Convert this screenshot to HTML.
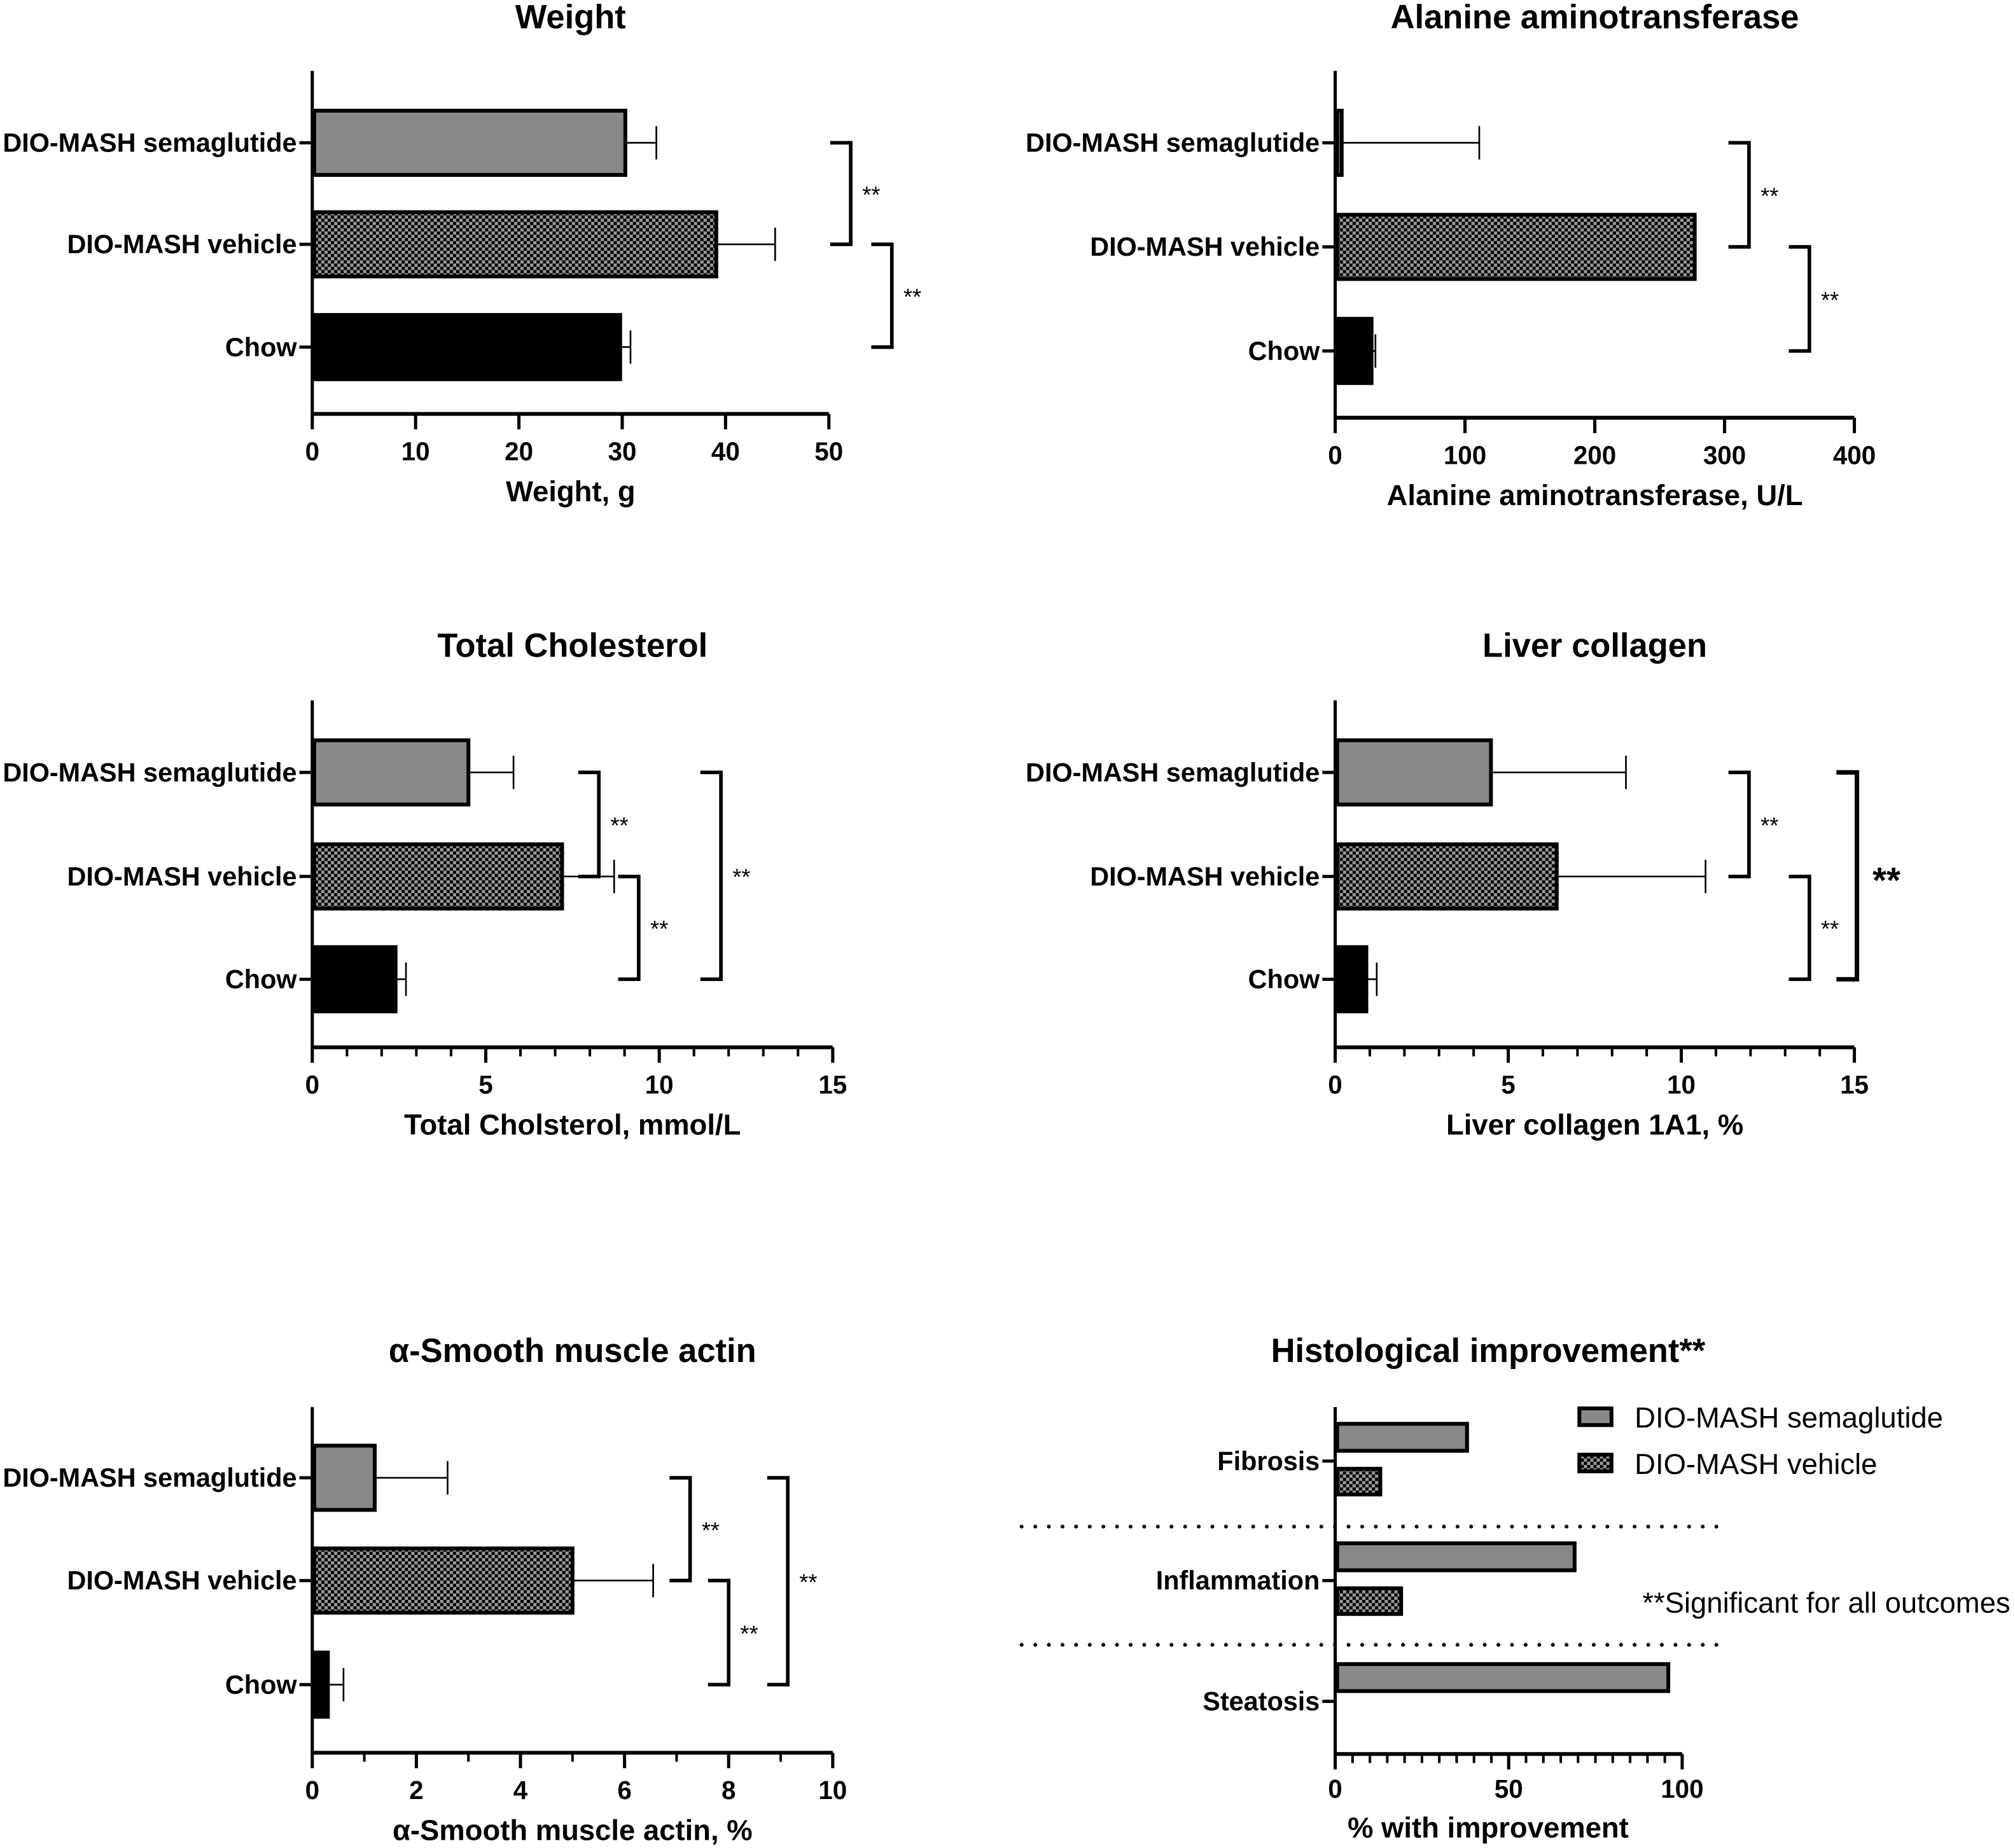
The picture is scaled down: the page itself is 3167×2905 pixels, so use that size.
<!DOCTYPE html>
<html><head><meta charset="utf-8"><style>
html,body{margin:0;padding:0;background:#fff}
svg{display:block}
text{font-family:"Liberation Sans",Arial,sans-serif}
</style></head><body>
<svg id="fig" width="3167" height="2905" viewBox="0 0 1568 1438" xmlns="http://www.w3.org/2000/svg">
<defs>
<pattern id="checker" width="5" height="5" patternUnits="userSpaceOnUse">
<rect width="5" height="5" fill="#9a9a9a"/><rect width="2.5" height="2.5" fill="#000"/><rect x="2.5" y="2.5" width="2.5" height="2.5" fill="#000"/>
</pattern>
</defs>
</svg>
<script>
const groups = ["DIO-MASH semaglutide","DIO-MASH vehicle","Chow"];
const weightVals = [30.3, 39.1, 29.8];
const weightErr = [33.3, 44.8, 30.8];
const weightTicks = [0,10,20,30,40,50];
const altVals = [5, 277, 28];
const altErr = [111, 277, 31];
const altTicks = [0,100,200,300,400];
const cholVals = [4.5, 7.2, 2.4];
const cholErr = [5.8, 8.7, 2.7];
const cholTicks = [0,5,10,15];
const collVals = [4.5, 6.4, 0.9];
const collErr = [8.4, 10.7, 1.2];
const collTicks = [0,5,10,15];
const smaVals = [1.2, 5.0, 0.3];
const smaErr = [2.6, 6.55, 0.6];
const smaTicks = [0,2,4,6,8,10];
const histoCats = ["Fibrosis","Inflammation","Steatosis"];
const histoSema = [38, 69, 96];
const histoVeh = [13, 19, 0];
const histoTicks = [0,50,100];

const svg = document.getElementById('fig');
const NS = 'http://www.w3.org/2000/svg';
const F_TITLE = 26, F_CAT = 20.5, F_TICK = 20, F_XL = 22.5, F_LEG = 22.5;
function el(tag, attrs, parent){
  const e = document.createElementNS(NS, tag);
  for (const k in attrs) e.setAttribute(k, attrs[k]);
  (parent||svg).appendChild(e);
  return e;
}
function txt(x,y,s,size,anchor,weight,parent){
  const t = el('text',{x:x,y:y,'font-size':size,'text-anchor':anchor||'middle','font-weight':weight||'bold'},parent);
  t.textContent = s;
  return t;
}
const fills = ['#888888','url(#checker)','#000000'];

function panel(p){
  const g = el('g',{});
  
  
  const x = v => p.x0 + (v - 0) / p.max * (p.x1 - p.x0);
  const tt = txt((p.x0+p.x1)/2 + (p.titleDx||0), p.titleY, p.title, F_TITLE, 'middle', 'bold', g);
  
  
  el('line',{x1:p.x0,y1:p.top,x2:p.x0,y2:p.bottom,stroke:'#000','stroke-width':2.5},g);
  el('line',{x1:p.x0,y1:p.bottom,x2:p.x1,y2:p.bottom,stroke:'#000','stroke-width':3},g);
  p.ticks.forEach(v=>{
    el('line',{x1:x(v),y1:p.bottom,x2:x(v),y2:p.bottom+12,stroke:'#000','stroke-width':2.5},g);
    const tl = txt(x(v), p.bottom+36, String(v), F_TICK, 'middle', 'bold', g);
    
    
  });
  if (p.minor){
    for (let v=p.minor; v<p.max; v+=p.minor){
      if (p.ticks.some(t=>Math.abs(t-v)<1e-6)) continue;
      el('line',{x1:x(v),y1:p.bottom,x2:x(v),y2:p.bottom+7,stroke:'#000','stroke-width':2},g);
    }
  }
  const xl = txt((p.x0+p.x1)/2, p.bottom+68, p.xlabel, F_XL, 'middle', 'bold', g);
  
  
  p.cats.forEach((c,i)=>{
    const cy = p.catY[i];
    el('line',{x1:p.x0-10,y1:cy,x2:p.x0,y2:cy,stroke:'#000','stroke-width':2.5},g);
    const cl = txt(p.x0-12, cy+7, c, F_CAT, 'end', 'bold', g);
    
    
    const v = p.vals[i], e = p.err[i];
    if (e > v){
      el('line',{x1:x(v),y1:cy,x2:x(e),y2:cy,stroke:'#000','stroke-width':1.3},g);
      el('line',{x1:x(e),y1:cy-13,x2:x(e),y2:cy+13,stroke:'#000','stroke-width':1.3},g);
    }
    const b = el('rect',{x:p.x0+1.5,y:cy-25,width:Math.max(0,x(v)-p.x0-1.5),height:50,fill:fills[i],stroke:'#000','stroke-width':3},g);
    
    
  });
  (p.brackets||[]).forEach(br=>{
    const y1 = p.catY[br.a], y2 = p.catY[br.b];
    const sw = br.thick ? 3.5 : 2.8;
    el('path',{d:`M${br.x-16} ${y1} H${br.x} V${y2} H${br.x-16}`,fill:'none',stroke:'#000','stroke-width':sw},g);
    const s = txt(br.x+ (br.thick?23:16), (y1+y2)/2 + (br.thick?13:7), '**', br.thick?28:18, 'middle', br.thick?'bold':'normal', g);
    
    
  });
}

panel({name:'weight-chart',title:'Weight',titleY:22,x0:243,x1:645,max:50,top:55,bottom:322,ticks:weightTicks,xlabel:'Weight, g',
  cats:groups,catY:[111,190,270],vals:weightVals,err:weightErr,
  brackets:[{a:0,b:1,x:662},{a:1,b:2,x:694}]});
panel({name:'alt-chart',title:'Alanine aminotransferase',titleY:22,x0:1039,x1:1443,max:400,top:55,bottom:325,ticks:altTicks,xlabel:'Alanine aminotransferase, U/L',
  cats:groups,catY:[111,192,273],vals:altVals,err:altErr,
  brackets:[{a:0,b:1,x:1361},{a:1,b:2,x:1408}]});
panel({name:'cholesterol-chart',title:'Total Cholesterol',titleY:511,x0:243,x1:648,max:15,minor:1,top:545,bottom:815,ticks:cholTicks,xlabel:'Total Cholsterol, mmol/L',
  cats:groups,catY:[601,682,762],vals:cholVals,err:cholErr,
  brackets:[{a:0,b:1,x:466},{a:1,b:2,x:497},{a:0,b:2,x:561}]});
panel({name:'collagen-chart',title:'Liver collagen',titleY:511,x0:1039,x1:1443,max:15,minor:1,top:545,bottom:815,ticks:collTicks,xlabel:'Liver collagen 1A1, %',
  cats:groups,catY:[601,682,762],vals:collVals,err:collErr,
  brackets:[{a:0,b:1,x:1361},{a:1,b:2,x:1408},{a:0,b:2,x:1445,thick:true}]});
panel({name:'sma-chart',title:'α-Smooth muscle actin',titleY:1060,x0:243,x1:648,max:10,minor:1,top:1095,bottom:1364,ticks:smaTicks,xlabel:'α-Smooth muscle actin, %',
  cats:groups,catY:[1150,1230,1311],vals:smaVals,err:smaErr,
  brackets:[{a:0,b:1,x:537},{a:1,b:2,x:567},{a:0,b:2,x:613}]});

(function(){
  const g = el('g',{});
  
  
  const x0=1039, x100=1309, top=1095, bottom=1365;
  const x = v => x0 + v/100*(x100-x0);
  const catY = [1137,1230,1324];
  const t = txt(1158,1060,'Histological improvement**',F_TITLE,'middle','bold',g);
  
  
  [1188,1280].forEach(y=>{
    el('line',{x1:795,y1:y,x2:1340,y2:y,stroke:'#000','stroke-width':3,'stroke-dasharray':'0 10.6','stroke-linecap':'round'},g);
  });
  el('line',{x1:x0,y1:top,x2:x0,y2:bottom,stroke:'#000','stroke-width':2.5},g);
  el('line',{x1:x0,y1:bottom,x2:x(100),y2:bottom,stroke:'#000','stroke-width':3},g);
  for (let v=5; v<100; v+=5){
    if (v===50) continue;
    el('line',{x1:x(v),y1:bottom,x2:x(v),y2:bottom+7,stroke:'#000','stroke-width':2},g);
  }
  histoTicks.forEach(v=>{
    el('line',{x1:x(v),y1:bottom,x2:x(v),y2:bottom+12,stroke:'#000','stroke-width':2.5},g);
    const tl = txt(x(v),bottom+34,String(v),F_TICK,'middle','bold',g);
    
    
  });
  const xl = txt(1158,1430,'% with improvement',F_XL,'middle','bold',g);
  
  
  histoCats.forEach((c,i)=>{
    const cy = catY[i];
    el('line',{x1:x0-10,y1:cy,x2:x0,y2:cy,stroke:'#000','stroke-width':2.5},g);
    const cl = txt(x0-12,cy+7,c,F_CAT,'end','bold',g);
    
    
    if (histoSema[i] > 0){
      const b = el('rect',{x:x0+1.5,y:cy-29,width:x(histoSema[i])-x0-1.5,height:21,fill:'#888',stroke:'#000','stroke-width':3},g);
      
      
    }
    if (histoVeh[i] > 0){
      const b = el('rect',{x:x0+1.5,y:cy+6,width:x(histoVeh[i])-x0-1.5,height:20,fill:'url(#checker)',stroke:'#000','stroke-width':3},g);
      
      
    }
  });
  const l1 = el('g',{},g);
  
  
  el('rect',{x:1229,y:1096,width:25,height:13,fill:'#888',stroke:'#000','stroke-width':3},l1);
  txt(1272,1111,'DIO-MASH semaglutide',F_LEG,'start','normal',l1);
  const l2 = el('g',{},g);
  
  
  el('rect',{x:1229,y:1132,width:25,height:13,fill:'url(#checker)',stroke:'#000','stroke-width':3},l2);
  txt(1272,1147,'DIO-MASH vehicle',F_LEG,'start','normal',l2);
  const n = txt(1278,1255,'**Significant for all outcomes',F_LEG,'start','normal',g);
  
  
})();
</script>
</body></html>
